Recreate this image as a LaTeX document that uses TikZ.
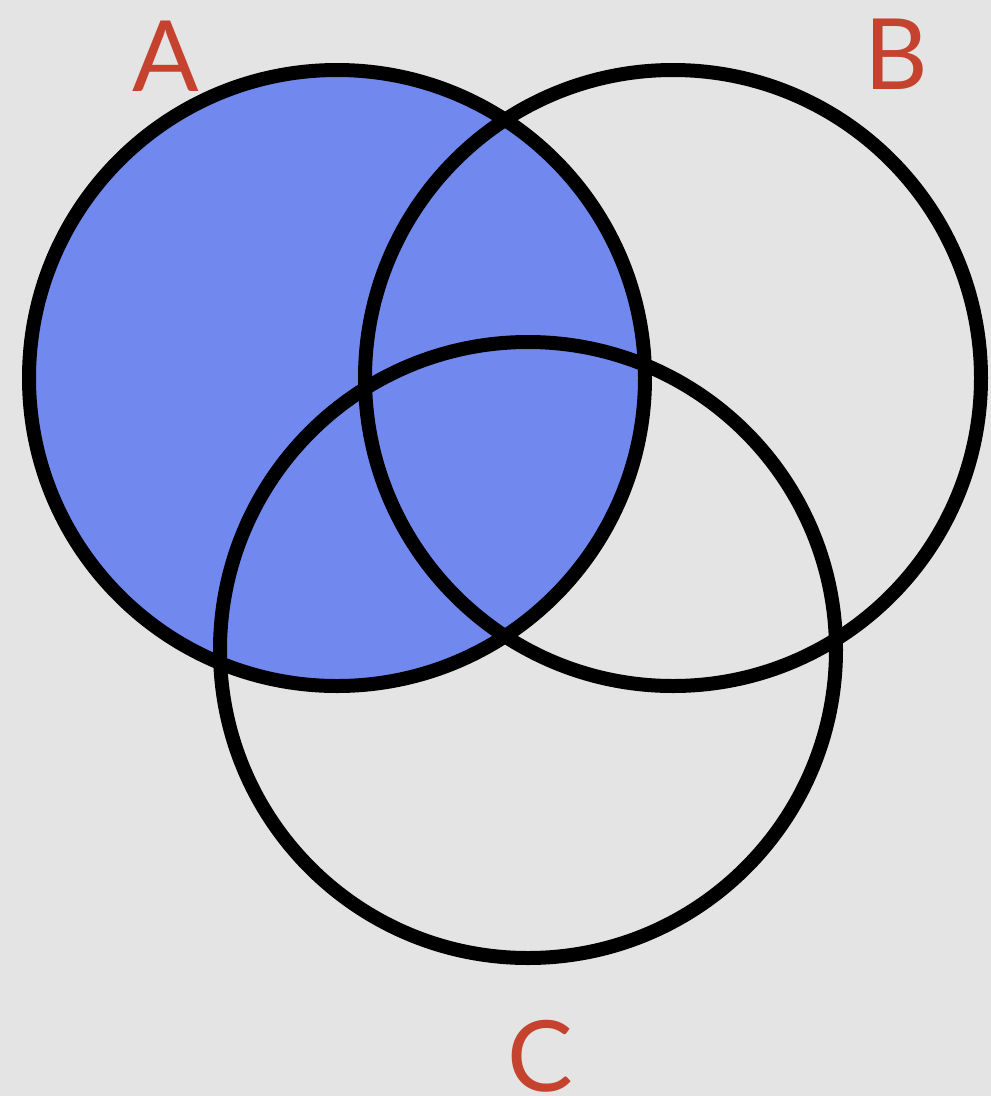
\documentclass[tikz,border=0pt]{standalone}
\usepackage{fontspec}
\setmainfont{Lato}
\definecolor{bg}{RGB}{228,228,228}
\definecolor{fillA}{RGB}{113,137,238}
\definecolor{lbl}{RGB}{196,66,46}
\begin{document}
\begin{tikzpicture}[x=0.02cm,y=-0.02cm,
  ring/.style={draw=black,line width=0.28cm},
  lab/.style={text=lbl,font=\fontsize{56}{56}\selectfont,inner sep=0pt}]
\fill[bg] (0,0) rectangle (991,1096);
\useasboundingbox (0,0) rectangle (991,1096);
\coordinate (cA) at (337,378);
\coordinate (cB) at (673,378);
\coordinate (cC) at (528,650);
\fill[fillA] (cA) circle[radius=308];
\draw[ring] (cA) circle[radius=308];
\draw[ring] (cB) circle[radius=308];
\draw[ring] (cC) circle[radius=308];
\node[lab] (A) at (166,56) {A};
\node[lab] (B) at (896,54) {B};
\node[lab] (C) at (540,1056) {C};
\end{tikzpicture}
\end{document}
